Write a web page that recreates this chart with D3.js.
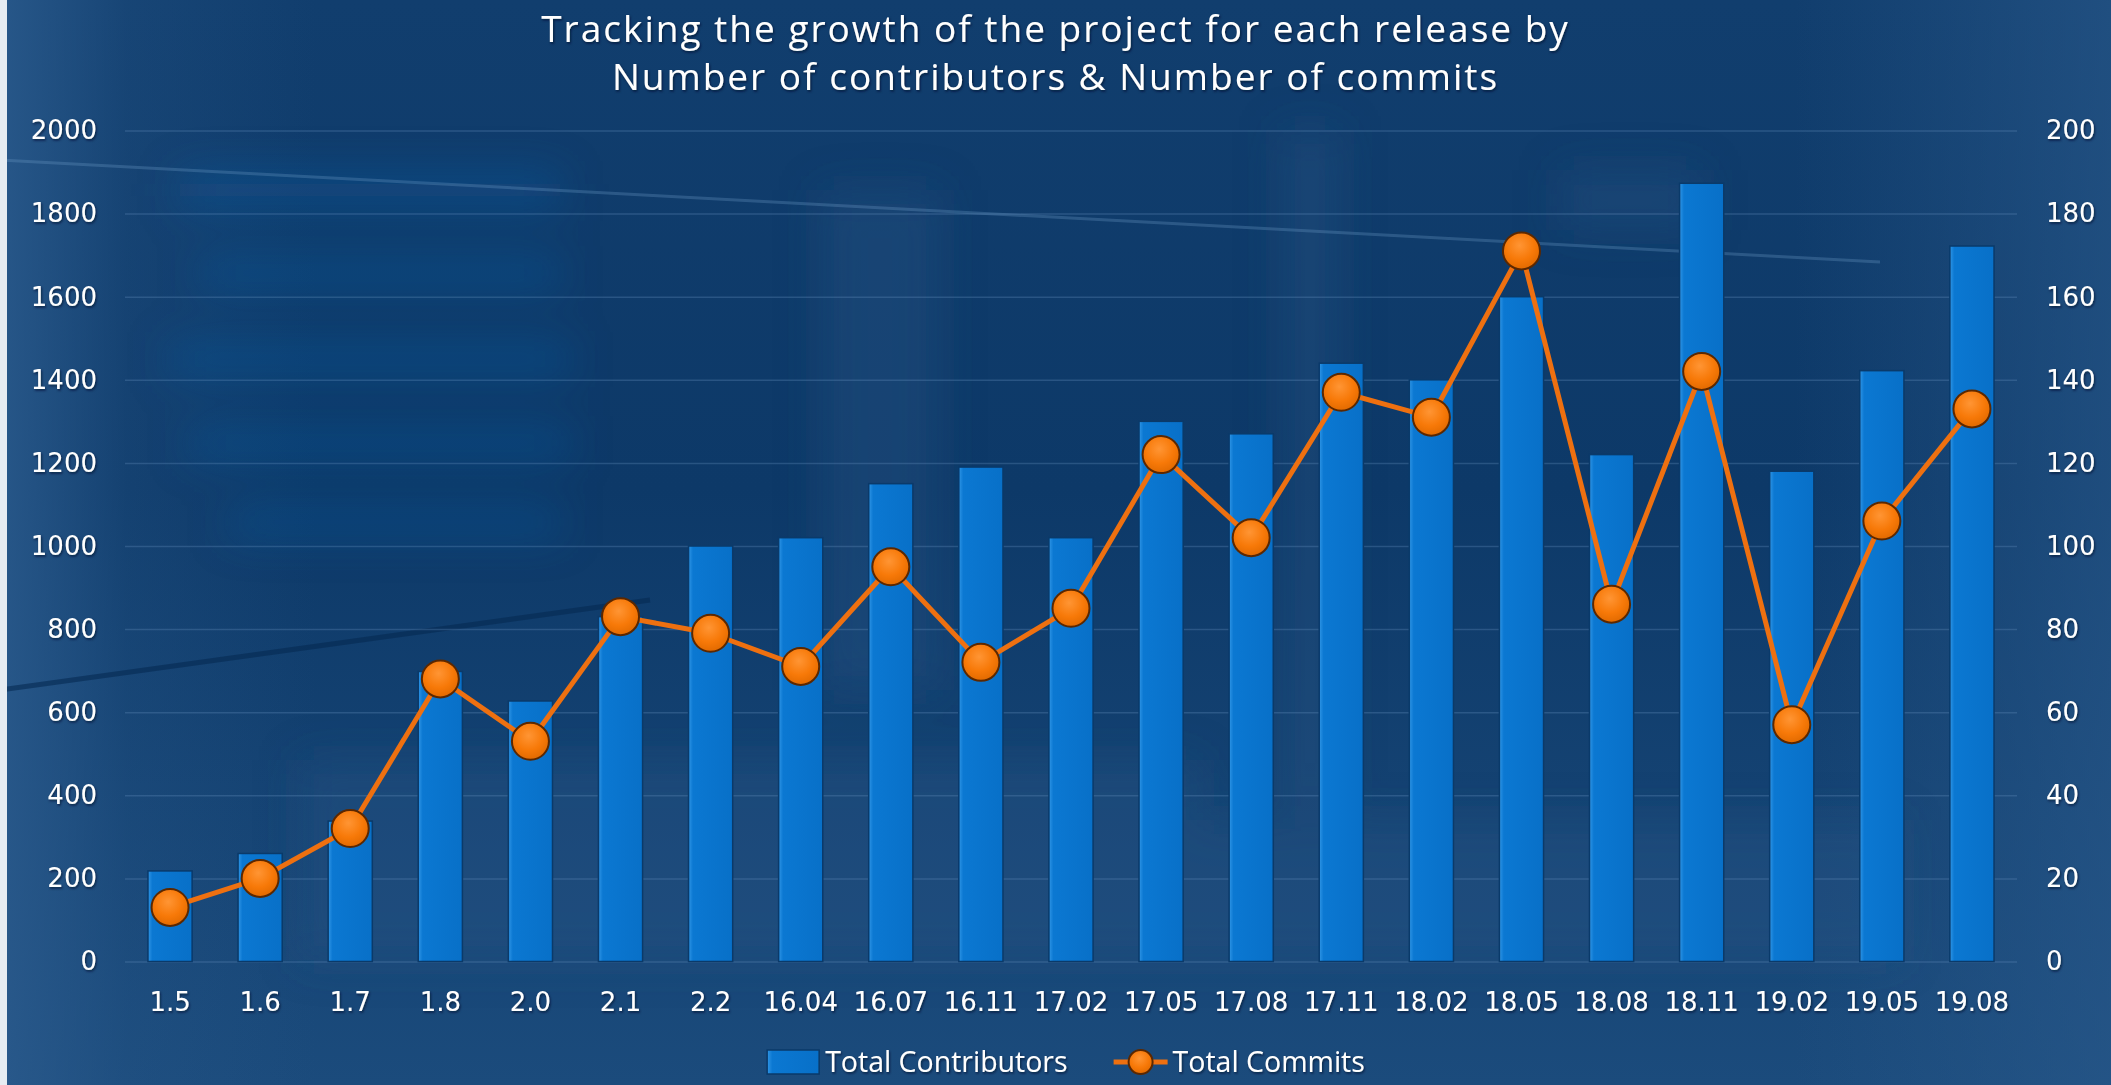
<!DOCTYPE html>
<html>
<head>
<meta charset="utf-8">
<script src="https://cdn.jsdelivr.net/npm/d3@7"></script>
<style>
html, body { margin: 0; padding: 0; background: #154676; overflow: hidden; }
svg { display: block; }
text { fill: #ffffff; }
</style>
</head>
<body>
<svg id="chart"></svg>
<script>
// chart data
const releases = ["1.5","1.6","1.7","1.8","2.0","2.1","2.2","16.04","16.07","16.11","17.02",
                  "17.05","17.08","17.11","18.02","18.05","18.08","18.11","19.02","19.05","19.08"];
const contributors = [218, 260, 338, 698, 627, 830, 1000, 1020, 1150, 1190, 1020,
                      1300, 1270, 1440, 1400, 1600, 1220, 1873, 1180, 1422, 1722];
const commits = [13, 20, 32, 68, 53, 83, 79, 71, 95, 72, 85,
                 122, 102, 137, 131, 171, 86, 142, 57, 106, 133];
const leftTicks = [0, 200, 400, 600, 800, 1000, 1200, 1400, 1600, 1800, 2000];
const rightTicks = [0, 20, 40, 60, 80, 100, 120, 140, 160, 180, 200];
const titleLines = ["Tracking the growth of the project for each release by",
                    "Number of contributors & Number of commits"];
const seriesNames = ["Total Contributors", "Total Commits"];

const W = 2111, H = 1085;
const plot = {left: 125, right: 2017, top: 130.5, bottom: 961.5};

const svg = d3.select("#chart").attr("width", W).attr("height", H);
const defs = svg.append("defs");

// background gradients
const bgGrad = defs.append("linearGradient").attr("id", "bg")
    .attr("x1", 0).attr("y1", 0).attr("x2", 0).attr("y2", 1);
bgGrad.append("stop").attr("offset", "0%").attr("stop-color", "#113e6e");
bgGrad.append("stop").attr("offset", "45%").attr("stop-color", "#0d3968");
bgGrad.append("stop").attr("offset", "100%").attr("stop-color", "#1b4b7c");

const sideGrad = defs.append("linearGradient").attr("id", "side")
    .attr("x1", 0).attr("y1", 0).attr("x2", 1).attr("y2", 0);
sideGrad.append("stop").attr("offset", "0%").attr("stop-color", "#2a5a8c").attr("stop-opacity", 0.9);
sideGrad.append("stop").attr("offset", "6%").attr("stop-color", "#2a5a8c").attr("stop-opacity", 0.25);
sideGrad.append("stop").attr("offset", "15%").attr("stop-color", "#2a5a8c").attr("stop-opacity", 0);
sideGrad.append("stop").attr("offset", "85%").attr("stop-color", "#2a5a8c").attr("stop-opacity", 0);
sideGrad.append("stop").attr("offset", "100%").attr("stop-color", "#2a5a8c").attr("stop-opacity", 0.6);

defs.append("filter").attr("id", "blur").attr("x", "-50%").attr("y", "-50%")
    .attr("width", "200%").attr("height", "200%")
  .append("feGaussianBlur").attr("stdDeviation", 22);

const shadow = defs.append("filter").attr("id", "shadow");
shadow.append("feDropShadow").attr("dx", 1).attr("dy", 1.5).attr("stdDeviation", 1)
    .attr("flood-color", "#03152b").attr("flood-opacity", 0.7);

// bar fill: lighter left edge
const barGrad = defs.append("linearGradient").attr("id", "barGrad")
    .attr("x1", 0).attr("y1", 0).attr("x2", 1).attr("y2", 0);
barGrad.append("stop").attr("offset", "0%").attr("stop-color", "#3096e6");
barGrad.append("stop").attr("offset", "10%").attr("stop-color", "#0b78d2");
barGrad.append("stop").attr("offset", "100%").attr("stop-color", "#0870c8");

// marker fill
const dotGrad = defs.append("radialGradient").attr("id", "dotGrad")
    .attr("cx", "45%").attr("cy", "35%").attr("r", "65%");
dotGrad.append("stop").attr("offset", "0%").attr("stop-color", "#ff9534");
dotGrad.append("stop").attr("offset", "60%").attr("stop-color", "#f77908");
dotGrad.append("stop").attr("offset", "100%").attr("stop-color", "#e26a00");

svg.append("rect").attr("width", W).attr("height", H).attr("fill", "url(#bg)");
svg.append("rect").attr("width", W).attr("height", H).attr("fill", "url(#side)");

// blurry photo-like streaks in the background
const glow = svg.append("g").attr("filter", "url(#blur)");
[[180, 175, 380, 30], [200, 260, 360, 26], [170, 345, 400, 28], [190, 430, 380, 26],
 [230, 510, 330, 24], [820, 190, 120, 500], [1280, 130, 60, 680], [1560, 170, 140, 60],
 [300, 760, 900, 200], [1200, 820, 700, 140]].forEach(function(r, i){
  glow.append("rect").attr("x", r[0]).attr("y", r[1]).attr("width", r[2]).attr("height", r[3])
      .attr("fill", i < 5 ? "#1d63b0" : "#2a5a8a").attr("opacity", i < 5 ? 0.4 : 0.3);
});
svg.append("line").attr("x1", 0).attr("y1", 160).attr("x2", 1880).attr("y2", 262)
    .attr("stroke", "#6f9cc8").attr("stroke-width", 3).attr("opacity", 0.3);
svg.append("line").attr("x1", 0).attr("y1", 690).attr("x2", 650).attr("y2", 600)
    .attr("stroke", "#062a52").attr("stroke-width", 5).attr("opacity", 0.6);
// thin light border on the left edge
svg.append("rect").attr("x", 0).attr("y", 0).attr("width", 7).attr("height", H).attr("fill", "#e6ecf2");

// scales
const x = d3.scaleBand().domain(releases).range([plot.left, plot.right])
    .paddingInner(0.51).paddingOuter(0.255);
const yL = d3.scaleLinear().domain([0, 2000]).range([plot.bottom, plot.top]);
const yR = d3.scaleLinear().domain([0, 200]).range([plot.bottom, plot.top]);

// gridlines
svg.append("g").attr("transform", `translate(${plot.left},0)`)
  .call(d3.axisLeft(yL).tickValues(leftTicks).tickSize(-(plot.right - plot.left)).tickFormat(""))
  .call(g => g.select(".domain").remove())
  .call(g => g.selectAll("line").attr("stroke", "#5b86b4").attr("stroke-opacity", 0.35).attr("stroke-width", 1.5));

const tickFont = "'DejaVu Sans', sans-serif";
const styleTicks = g => g.selectAll("text").attr("fill", "#fff").style("font-family", tickFont)
    .style("font-size", "26px").attr("filter", "url(#shadow)");

// left axis
svg.append("g").attr("transform", `translate(${plot.left},0)`)
  .call(d3.axisLeft(yL).tickValues(leftTicks).tickFormat(d3.format("d")).tickSize(0).tickPadding(28))
  .call(g => g.select(".domain").remove())
  .call(styleTicks);

// right axis
svg.append("g").attr("transform", `translate(${plot.right},0)`)
  .call(d3.axisRight(yR).tickValues(rightTicks).tickFormat(d3.format("d")).tickSize(0).tickPadding(29))
  .call(g => g.select(".domain").remove())
  .call(styleTicks);

// bottom axis
svg.append("g").attr("transform", `translate(0,${plot.bottom})`)
  .call(d3.axisBottom(x).tickSize(0).tickPadding(31))
  .call(g => g.select(".domain").remove())
  .call(styleTicks);

// bars
svg.append("g").selectAll("rect")
  .data(contributors)
  .enter()
  .append("rect")
  .attr("x", (d, i) => x(releases[i]))
  .attr("y", d => yL(d))
  .attr("width", x.bandwidth())
  .attr("height", d => yL(0) - yL(d))
  .attr("fill", "url(#barGrad)")
  .attr("stroke", "#0a3a6a")
  .attr("stroke-width", 1.5);

// commits line
const line = d3.line()
  .x((d, i) => x(releases[i]) + x.bandwidth() / 2)
  .y(d => yR(d));

svg.append("path").datum(commits)
  .attr("d", line)
  .attr("fill", "none")
  .attr("stroke", "#ee7010")
  .attr("stroke-width", 5)
  .attr("stroke-linejoin", "round");

svg.append("g").selectAll("circle")
  .data(commits)
  .enter()
  .append("circle")
  .attr("cx", (d, i) => x(releases[i]) + x.bandwidth() / 2)
  .attr("cy", d => yR(d))
  .attr("r", 18.5)
  .attr("fill", "url(#dotGrad)")
  .attr("stroke", "#5c2800")
  .attr("stroke-width", 2);

// title
svg.append("g").selectAll("text")
  .data(titleLines)
  .enter()
  .append("text")
  .attr("x", W / 2)
  .attr("y", (d, i) => 42 + i * 48)
  .attr("text-anchor", "middle")
  .style("font-family", "'Open Sans', sans-serif")
  .style("font-size", "37px")
  .style("letter-spacing", "2px")
  .attr("filter", "url(#shadow)")
  .text(d => d);

// legend
const legend = svg.append("g");
const ly = 1062;
const item1 = legend.append("g");
item1.append("rect").attr("x", 0).attr("y", ly - 12).attr("width", 52).attr("height", 24)
  .attr("fill", "url(#barGrad)").attr("stroke", "#0a3a6a").attr("stroke-width", 1.5);
const t1 = item1.append("text").attr("x", 58).attr("y", ly).attr("dy", "0.35em")
  .style("font-family", "'Open Sans', sans-serif").style("font-size", "28.5px")
  .attr("filter", "url(#shadow)").text(seriesNames[0]);
const w1 = 58 + t1.node().getComputedTextLength();

const item2 = legend.append("g").attr("transform", `translate(${w1 + 46},0)`);
item2.append("line").attr("x1", 0).attr("x2", 54).attr("y1", ly).attr("y2", ly)
  .attr("stroke", "#ee7010").attr("stroke-width", 5);
item2.append("circle").attr("cx", 27).attr("cy", ly).attr("r", 12)
  .attr("fill", "url(#dotGrad)").attr("stroke", "#5c2800").attr("stroke-width", 2);
const t2 = item2.append("text").attr("x", 59).attr("y", ly).attr("dy", "0.35em")
  .style("font-family", "'Open Sans', sans-serif").style("font-size", "28.5px")
  .attr("filter", "url(#shadow)").text(seriesNames[1]);
const total = w1 + 46 + 59 + t2.node().getComputedTextLength();
legend.attr("transform", `translate(${1066 - total / 2},0)`);
</script>
</body>
</html>
